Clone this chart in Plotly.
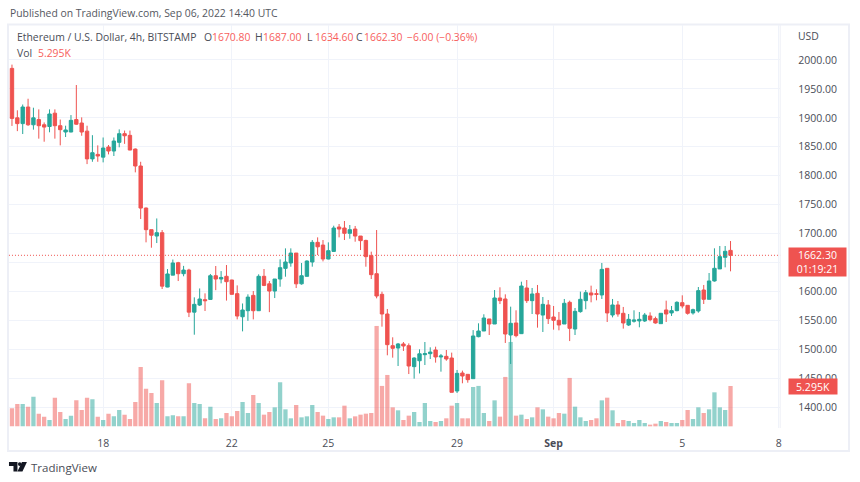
import pandas as pd
import plotly.graph_objects as go

W, H = 860, 482

opens = [1985.5,1900,1890,1918.7,1888,1897,1888,1885,1908,1886.4,
 1875.5,1875.5,1897,1891,1877,1829,1836.8,1832,1849.5,1842.6,
 1857.6,1872.6,1869.7,1846,1816.7,1744,1706.6,1695.6,1701.4,1607.4,
 1628,1649.5,1630.5,1636.8,1564,1576.3,1585.6,1586,1627,1621.3,
 1626,1619.6,1596,1556,1566.5,1593,1566.5,1626,1613,1600.5,
 1621.3,1639.7,1649,1666.2,1613,1625.9,1650.7,1684.7,1680,1655.9,
 1669,1711.2,1709.5,1700.3,1707.7,1695.6,1688,1661.6,1630.5,1594.8,
 1560.8,1506,1502,1509,1506,1469.8,1480,1490.5,1492.2,1498.6,
 1486.5,1487.6,1484.7,1427.7,1458.8,1456.5,1449,1521.6,1531.4,1552.2,
 1543.5,1588.5,1586.8,1524.5,1545.3,1526.8,1605.8,1583.9,1596.6,1559,
 1576.4,1555.6,1549.9,1543.5,1581,1534.9,1564.9,1583.9,1597.2,1596,
 1593.7,1639.8,1559.1,1576.4,1562,1541.8,1548.2,1548.8,1548.8,1557.4,
 1552.8,1544.1,1567.8,1562.6,1566.6,1580.4,1575.8,1562.6,1566,1602.3,
 1586.2,1617.9,1638.7,1658.8,1670.8]
highs = [1992,1913,1923,1933,1917.5,1914.6,1892,1914.6,1914.6,1897,
 1886.4,1904.8,1956.7,1900.8,1886.4,1870,1852.4,1866,1853,1866,
 1880,1878,1878,1847,1824,1745,1706.6,1726,1706,1638.5,
 1655,1651,1644,1639,1589.6,1605,1596.5,1630,1643.8,1635,
 1645.5,1620,1610.3,1579,1594.8,1600.5,1629.4,1638.6,1617.8,1621.3,
 1655.3,1674.3,1674.3,1666.2,1649,1653.6,1688.7,1693.3,1688.7,1684.7,
 1713.5,1716.4,1721.6,1714.7,1713,1695.6,1689.3,1668.6,1706,1599.4,
 1569.5,1520.5,1510.7,1512.4,1510,1486,1499.7,1512.4,1503.2,1504.3,
 1491.7,1498.6,1494,1464,1462.9,1456.5,1533,1544.7,1560.3,1552.2,
 1602.3,1607,1594.8,1573.5,1567.2,1616.7,1619.6,1605.8,1611,1590.2,
 1585,1574.7,1564.3,1586.8,1583.9,1571.2,1599.5,1602.3,1609.8,1603.5,
 1649,1639.8,1586.8,1583.3,1573,1560.8,1567.2,1564.3,1562.6,1563.7,
 1556.2,1562,1583.9,1574.7,1582.8,1593.1,1575.8,1570,1607.5,1611,
 1631.7,1674.4,1678.4,1678.4,1687]
lows = [1886,1877,1872,1886,1879.5,1864,1858.7,1875,1864,1852.4,
 1866.8,1875,1888,1869,1820,1824,1824,1823,1836.8,1834,
 1849,1855,1844,1805.7,1725,1684.7,1675.4,1683.5,1604,1607,
 1628,1617.8,1626,1555.5,1525,1574.6,1566,1585,1602,1613.8,
 1584,1594.5,1551.5,1530.8,1549,1551.5,1566,1609,1564,1588.4,
 1608,1625.3,1642.6,1605.7,1611.5,1625.9,1642.6,1662.8,1651.8,1655.3,
 1669,1693.3,1688.7,1691,1685.8,1671.4,1642.6,1621.3,1587.9,1538.9,
 1489.4,1485.3,1470.9,1496.9,1457,1449,1458,1472.6,1483,1476.7,
 1461.1,1480,1425.4,1424.2,1441,1442,1449,1520.5,1531.4,1524.5,
 1543.5,1578,1510.7,1474.4,1520.5,1526.2,1579.9,1560.8,1537.2,1529.7,
 1543.5,1533.7,1532.6,1543.5,1514,1524.5,1563.1,1568.9,1581,1584.5,
 1586.8,1547,1555,1556.2,1535.5,1540.1,1545.9,1537.8,1547,1548.2,
 1544.1,1544.1,1547,1557.4,1565.5,1570.6,1559.7,1559.7,1563.1,1578.1,
 1586.2,1616.8,1638.7,1641.5,1634.6]
closes = [1899,1890,1918.7,1888,1900,1886.4,1884,1906.6,1886.4,1879.5,
 1879,1895.6,1889,1875.5,1829,1839.7,1834,1847.8,1842.6,1859.9,
 1872.6,1869,1844.3,1816.7,1744,1706.6,1697,1701.4,1609,1630,
 1649,1630.5,1636.8,1564,1577.5,1586.7,1583.8,1627,1621.3,1624,
 1616.7,1594.8,1557.3,1567.7,1590,1566.5,1626,1610.3,1600.5,1621.3,
 1640.9,1650.7,1666.2,1613,1627,1652.4,1684.7,1677,1655.9,1670.3,
 1709.5,1707.7,1700.3,1706.6,1695.6,1687.6,1660,1628.8,1591.9,1560.8,
 1507.8,1501.5,1509,1505.5,1470.9,1484.7,1492,1492.2,1495,1486.5,
 1488.2,1483,1425.4,1458.2,1453.6,1447.3,1522.8,1531.4,1553.9,1543.5,
 1588.5,1583.9,1526.2,1544.7,1523.4,1609.2,1583.9,1595.4,1560.8,1577.5,
 1552.8,1549.9,1541.8,1579.3,1536,1565.4,1586.2,1597.7,1593.7,1594.8,
 1638,1562.6,1576.4,1560.8,1545.3,1551.6,1550.5,1551.6,1559.1,1551,
 1545.3,1562,1560.8,1566.6,1581,1574.7,1562,1568.3,1601.2,1586.2,
 1617.9,1639.8,1660,1669.2,1662.3]
volumes_k = [2.36,2.93,2.93,2.58,3.89,1.66,1.27,0.83,3.76,1.88,
 0.96,1.40,3.41,2.14,3.76,3.54,1.27,0.83,1.66,1.31,
 2.14,1.53,0.96,3.19,7.79,4.94,4.38,3.06,6.04,1.31,
 1.44,1.31,1.31,5.65,3.06,2.93,1.05,2.58,0.96,1.05,
 1.75,1.31,2.01,3.19,1.75,4.11,3.06,1.53,1.88,2.49,
 5.78,2.23,1.05,2.80,1.18,1.31,2.80,1.88,1.40,0.96,
 1.18,1.18,2.71,1.05,1.31,1.53,1.66,1.75,13.17,5.30,
 6.74,2.49,2.10,0.83,1.40,1.88,0.57,3.06,0.70,0.57,
 0.70,1.05,2.71,3.06,1.05,1.05,5.16,5.30,1.75,0.70,
 3.41,1.27,6.48,11.07,1.40,1.53,0.96,1.18,2.49,2.23,
 1.27,1.05,1.75,1.66,6.35,2.58,1.18,0.70,0.83,1.05,
 3.41,3.76,2.10,0.44,0.83,0.70,0.44,0.83,0.44,0.22,
 0.35,0.70,0.57,0.44,0.44,0.83,2.14,0.96,2.49,1.75,
 2.23,4.46,2.49,2.14,5.295]

times = pd.date_range("2022-08-15 04:00", periods=len(opens), freq="4h")
price_ticks = [1400,1450,1500,1550,1600,1650,1700,1750,1800,1850,1900,1950,2000]
time_ticks = ["2022-08-18","2022-08-22","2022-08-25","2022-08-29","2022-09-01","2022-09-05","2022-09-08"]
time_labels = ["18","22","25","29","<b>Sep</b>","5","8"]
last_price = closes[-1]

UP, DOWN = "#26A69A", "#EF5350"
GRID = "#F0F3FA"
TXT = "#4A4D57"
FONT = "Open Sans, sans-serif"

def px(x): return x / W
def py(y): return 1 - y / H

vol_colors = ["rgba(38,166,154,0.5)" if c >= o else "rgba(239,83,80,0.5)"
              for o, c in zip(opens, closes)]

fig = go.Figure()
fig.add_trace(go.Bar(x=times, y=volumes_k, marker=dict(color=vol_colors, line_width=0),
                     yaxis="y", xaxis="x", name="Vol"))
fig.add_trace(go.Candlestick(x=times, open=opens, high=highs, low=lows, close=closes,
                             yaxis="y2", xaxis="x", name="ETHUSD", whiskerwidth=0,
                             increasing=dict(line=dict(color=UP, width=1), fillcolor=UP),
                             decreasing=dict(line=dict(color=DOWN, width=1), fillcolor=DOWN)))

# dotted last price line
fig.add_shape(type="line", xref="paper", yref="y2", x0=px(9), x1=px(782),
              y0=last_price, y1=last_price, line=dict(color=DOWN, width=1, dash="1px,2px"))

# chart frame and price-scale separator
fig.add_shape(type="rect", xref="paper", yref="paper", x0=px(8), x1=px(851), y0=py(24.5), y1=py(451),
              line=dict(color="#EDEFF6", width=2), layer="below")
fig.add_shape(type="line", xref="paper", yref="paper", x0=px(782), x1=px(782), y0=py(25), y1=py(428),
              line=dict(color="#EDEFF6", width=1))

# TradingView logo
def poly(points):
    return "M" + " L".join(f"{px(a):.5f},{py(b):.5f}" for a, b in points) + " Z"
for pts in ([(9,462),(17.5,462),(17.5,471.5),(13.5,471.5),(13.5,466),(9,466)],
            [(22,462),(27,462),(22.5,471.5),(17.5,471.5)]):
    fig.add_shape(type="path", xref="paper", yref="paper", path=poly(pts),
                  fillcolor="#131722", line_width=0)
fig.add_shape(type="circle", xref="paper", yref="paper", x0=px(18), x1=px(21.6), y0=py(466), y1=py(462.2),
              fillcolor="#131722", line_width=0)

def label(x, y, text, color=TXT, size=10.5, anchor="left", **kw):
    fig.add_annotation(xref="paper", yref="paper", x=px(x), y=py(y), text=text, showarrow=False,
                       xanchor=anchor, yanchor="middle", align="center",
                       font=dict(family=FONT, size=size, color=color), borderpad=0, **kw)

RED_TXT = "#F7605D"
label(9, 13, "Published on TradingView.com, Sep 06, 2022 14:40 UTC", "#555861", 10.4)
label(16, 37, "Ethereum / U.S. Dollar, 4h, BITSTAMP", "#4A4D57", 10.4)
for x, lab, val in [(203, "O", "1670.80"), (255, "H", "1687.00"), (307, "L", "1634.60"), (356, "C", "1662.30")]:
    label(x, 37, lab, "#4A4D57", 10.4)
    label(x + 8, 37, val, RED_TXT, 10.4)
label(407, 37, "−6.00 (−0.36%)", RED_TXT, 10.4)
label(16, 53, "Vol", "#4A4D57", 10.4)
label(37, 53, "5.295K", RED_TXT, 10.4)
label(799, 36, "USD", "#4A4D57", 10.4)
label(30, 467, "TradingView", "#4A4D57", 11.5)

label(790, 262, "1662.30<br>01:19:21", "white", 10.5, bgcolor=DOWN, width=57, height=28)
label(790, 386.5, "5.295K", "white", 10.5, bgcolor=DOWN, width=48, height=15)

x0 = times[0] - pd.Timedelta(hours=4 * 0.56)
x1 = times[0] + pd.Timedelta(hours=4 * 143.26)

fig.update_layout(
    width=W, height=H, autosize=False,
    margin=dict(l=0, r=0, t=0, b=0),
    paper_bgcolor="white", plot_bgcolor="white",
    showlegend=False, hovermode=False, bargap=0.2, boxgap=0.1,
    font=dict(family=FONT, size=10.5, color=TXT),
    xaxis=dict(domain=[px(9), px(782)], range=[x0, x1], type="date",
               anchor="y", rangeslider=dict(visible=False),
               tickmode="array", tickvals=time_ticks, ticktext=time_labels,
               ticks="outside", ticklen=5, tickcolor="rgba(0,0,0,0)",
               showgrid=True, gridcolor=GRID, gridwidth=1, zeroline=False, showline=False,
               tickfont=dict(family=FONT, size=10.5, color=TXT)),
    yaxis=dict(domain=[py(428), py(25)], range=[-0.22, 52.66], visible=False,
               showgrid=False, zeroline=False, fixedrange=True),
    yaxis2=dict(domain=[py(428), py(25)], range=[1363.7, 2060.5], overlaying="y", side="right",
                anchor="x", tickmode="array", tickvals=price_ticks,
                ticktext=["" if v == 1650 else f"{v:.2f}" for v in price_ticks],
                showgrid=True, gridcolor=GRID, gridwidth=1, zeroline=False, showline=False,
                ticks="", ticklabelstandoff=17,
                tickfont=dict(family=FONT, size=10.5, color=TXT)),
)
fig.write_html("out.html", config={"displayModeBar": False},
               post_script="document.body.style.margin='0';document.documentElement.style.overflow='hidden';")
